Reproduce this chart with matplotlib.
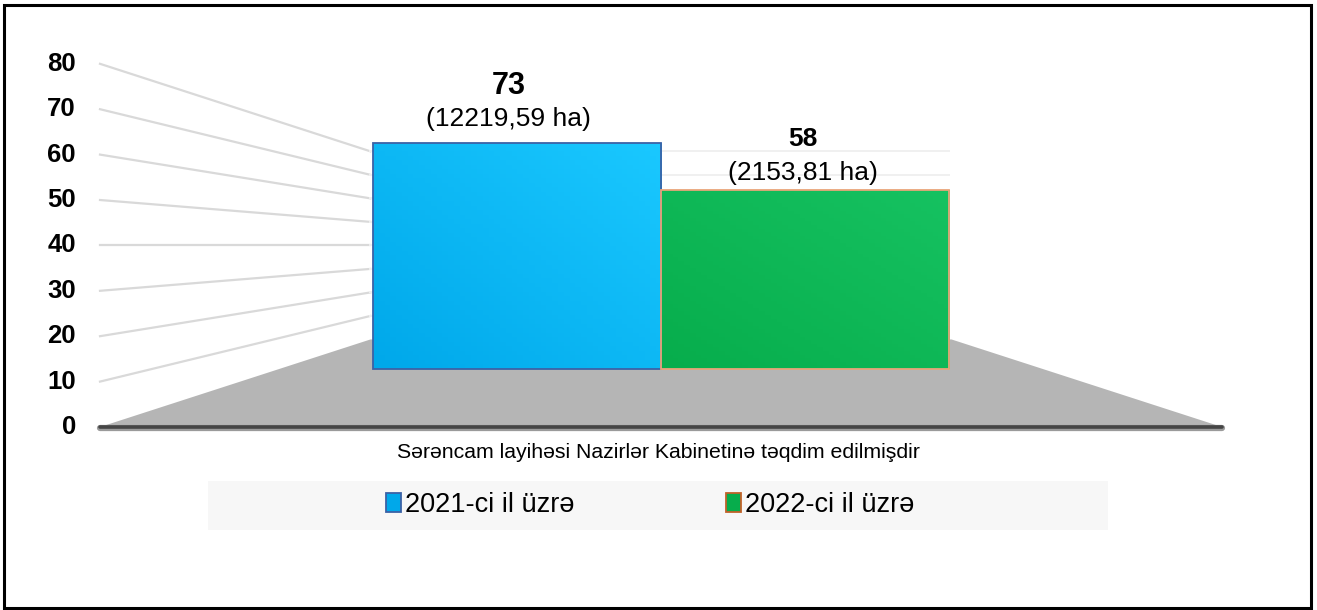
import numpy as np
import matplotlib.pyplot as plt
from matplotlib.patches import Polygon, Rectangle, Patch
from matplotlib.colors import LinearSegmentedColormap

plt.rcParams['font.family'] = ['Liberation Sans', 'DejaVu Sans']

# 1------data----------
years = ['2021-ci il üzrə', '2022-ci il üzrə']
counts = [73, 58]
areas = ['(12219,59 ha)', '(2153,81 ha)']
category = 'Sərəncam layihəsi Nazirlər Kabinetinə təqdim edilmişdir'
y_ticks = [0, 10, 20, 30, 40, 50, 60, 70, 80]

# 2------look----------
face_lo = ['#00a8ea', '#07ad4c']     # gradient, bottom-left
face_hi = ['#1ac8ff', '#16c261']     # gradient, top-right
edges = ['#3b62a6', '#e9a57a']
num_size = [22, 19]
pad = [12, 5]                        # gap (px) between bar top and its label
num_pad = [30, 34]                   # gap (px) between bar top and the count

# 3------fake 3D view: one point perspective like the Excel chart------
W, H = 1317, 610
X0, X1 = 100, 1222          # front floor edge in pixels
Y0, PX = 427, 4.54          # pixel of value 0 and pixels per unit on the front plane
VX, VY = (X0 + X1) / 2, Y0 - 40 * PX   # vanishing point
BACK, BAR_Z = 0.518, 0.683  # depth scale of the back wall / of the bar fronts
GAP = 0.124                 # free space left and right of the bars (floor units)

def proj(u, v, s):
    # u: 0..1 across the floor, v: value, s: depth scale (1 = front)
    xf = X0 + (X1 - X0) * u
    yf = Y0 - PX * v
    return VX + (xf - VX) * s, VY + (yf - VY) * s

fig = plt.figure(figsize=(W / 100, H / 100), dpi=100)
ax = fig.add_axes([0, 0, 1, 1])
ax.set_xlim(0, W); ax.set_ylim(H, 0); ax.axis('off')

# outer frame
ax.add_patch(Rectangle((4, 5), W - 10, H - 7, fill=False, ec='black', lw=2.2, zorder=10))

# 4------walls and floor--------
for v in y_ticks[1:]:
    a, b = proj(0, v, 1), proj(0, v, BACK)
    ax.plot([a[0], b[0]], [a[1], b[1]], color='#d9d9d9', lw=1.6, zorder=1)
    c = proj(0.995, v, BACK)
    ax.plot([b[0], c[0]], [b[1], c[1]], color='#f0f0f0', lw=1.4, zorder=1)
floor = [proj(0, 0, 1), proj(1, 0, 1), proj(1, 0, BACK), proj(0, 0, BACK)]
ax.add_patch(Polygon(floor, closed=True, fc='#b5b5b5', ec='none', zorder=2))
f0, f1 = proj(0, 0, 1), proj(1, 0, 1)
ax.plot([f0[0], f1[0]], [f0[1] + 1, f1[1] + 1], color='#9a9a9a', lw=4.5, zorder=3, solid_capstyle='round')
ax.plot([f0[0], f1[0]], [f0[1], f1[1]], color='#454545', lw=2.6, zorder=3, solid_capstyle='round')

for v in y_ticks:
    ax.text(76, proj(0, v, 1)[1], str(v), ha='right', va='center',
            fontsize=18.5, fontweight='bold', color='black')

# 5------bars (front faces with a soft gradient)--------
bw = (1 - 2 * GAP) / len(counts)
grad = np.add.outer(np.linspace(0, 1, 50), np.linspace(0, 1, 50)) / 2
for i, val in enumerate(counts):
    u0, u1 = GAP + i * bw, GAP + (i + 1) * bw
    (xa, yb), (xb, yt) = proj(u0, 0, BAR_Z), proj(u1, val, BAR_Z)
    cmap = LinearSegmentedColormap.from_list('g%d' % i, [face_lo[i], face_hi[i]])
    rect = Rectangle((xa, yt), xb - xa, yb - yt, fc='none', ec=edges[i], lw=1.3, zorder=6)
    ax.add_patch(rect)
    im = ax.imshow(grad[::-1], cmap=cmap, extent=(xa, xb, yb, yt), origin='upper',
                   aspect='auto', zorder=5)
    im.set_clip_path(rect)
    xc = (xa + xb) / 2 - 8 + 6 * i
    ax.annotate(areas[i], (xc, yt), xytext=(0, pad[i]), textcoords='offset pixels',
                ha='center', va='bottom', fontsize=19, zorder=7)
    ax.annotate(str(val), (xc, yt), xytext=(0, pad[i] + num_pad[i]), textcoords='offset pixels',
                ha='center', va='bottom', fontsize=num_size[i], fontweight='bold', zorder=7)
ax.set_xlim(0, W); ax.set_ylim(H, 0)

# 6------category name and legend--------
ax.text(VX - 3, 453, category, ha='center', va='center', fontsize=15.3)
ax.add_patch(Rectangle((208, 481), 900, 49, fc='#f7f7f7', ec='none', zorder=1))
handles = [Patch(fc=face_lo[i], ec=edges[i] if i == 0 else '#c0622a', lw=1.3) for i in range(len(years))]
ax.legend(handles, years, loc='center', bbox_to_anchor=(650 / W, 1 - 505 / H), ncol=2,
          frameon=False, fontsize=19.5, handlelength=0.55, handleheight=0.75,
          handletextpad=0.15, columnspacing=5.6)

fig.savefig('out.png', dpi=100)
